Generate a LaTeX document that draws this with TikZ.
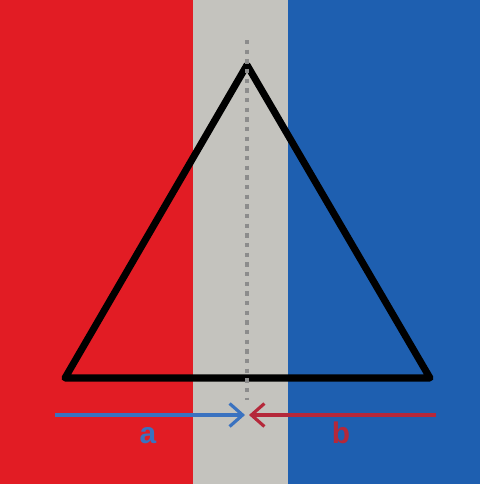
\documentclass[tikz,border=0pt]{standalone}
\usepackage{fontspec}
\setmainfont{Liberation Sans}
\usepackage{tikz}
\usetikzlibrary{arrows.meta}
\definecolor{cRed}{RGB}{226,28,36}
\definecolor{cGrey}{RGB}{196,195,190}
\definecolor{cBlue}{RGB}{30,95,176}
\definecolor{cArrowBlue}{RGB}{58,114,192}
\definecolor{cArrowRed}{RGB}{181,40,58}
\definecolor{cDots}{RGB}{140,140,140}
\tikzset{
	band/.style   ={draw=none},
	tri/.style    ={line width=4pt, line join=round, black},
	axisline/.style={cDots, line width=2.2pt, dash pattern=on 2.5pt off 3pt},
	lenarrow/.style={-{Straight Barb[length=2.6mm, width=4.6mm, line width=1.8pt]}, line width=2pt},
	lbl/.style    ={font=\fontsize{17}{17}\selectfont\bfseries, inner sep=0pt},
}
\begin{document}
\begin{tikzpicture}[x=0.02cm, y=-0.02cm]
	\useasboundingbox (0,0) rectangle (480,484);
	% colour bands
	\fill[band, cRed] (0,0) rectangle (193,484);
	\fill[band, cGrey] (193,0) rectangle (288,484);
	\fill[band, cBlue] (288,0) rectangle (480,484);
	% triangle
	\coordinate (apex) at (247,65);
	\coordinate (bl) at (65,378);
	\coordinate (br) at (430,378);
	\draw[tri] (apex) -- (bl) -- (br) -- cycle;
	% height
	\coordinate (htop) at (247,40);
	\coordinate (hbot) at (247,400);
	\draw[axisline] (htop) -- (hbot);
	% lengths a and b
	\coordinate (astart) at (55,415);
	\coordinate (amid) at (245,415);
	\coordinate (bstart) at (436,415);
	\coordinate (bmid) at (249,415);
	\draw[lenarrow, cArrowBlue] (astart) -- (amid);
	\draw[lenarrow, cArrowRed] (bstart) -- (bmid);
	\node[lbl, text=cArrowBlue] (la) at (148,436) {a};
	\node[lbl, text=cArrowRed] (lb) at (341,433) {b};
\end{tikzpicture}
\end{document}
